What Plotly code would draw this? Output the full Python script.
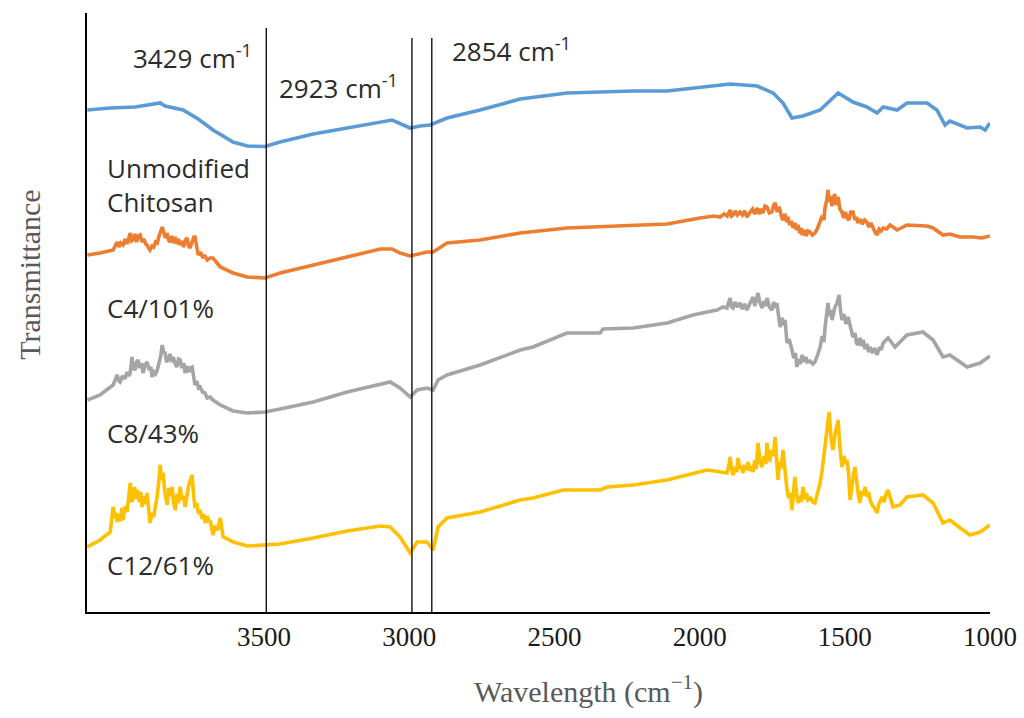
import plotly.graph_objects as go

# FTIR spectra as (wavenumber cm-1, transmittance in offset arbitrary units)
chitosan_pts = [
    (4109, 50.2), (4030, 50.4), (3944, 50.5), (3858, 50.9), (3841, 50.6),
    (3779, 50.2), (3727, 49.3), (3676, 48.2), (3607, 47.0), (3558, 46.6),
    (3497, 46.55), (3445, 47.0), (3331, 47.8), (3214, 48.4), (3100, 49.0),
    (3059, 49.2), (2997, 48.4), (2963, 48.6), (2928, 48.7), (2870, 49.4),
    (2756, 50.2), (2618, 51.3), (2457, 51.9), (2229, 52.1), (2112, 52.1),
    (1999, 52.5), (1895, 52.8), (1802, 52.6), (1747, 51.9), (1713, 50.9),
    (1682, 49.4), (1644, 49.6), (1585, 50.2), (1523, 51.9), (1472, 51.0),
    (1424, 50.5), (1389, 49.9), (1368, 50.5), (1320, 50.2), (1286, 50.9),
    (1217, 50.9), (1183, 50.2), (1155, 48.7), (1138, 49.1), (1079, 48.4),
    (1034, 48.5), (1017, 48.2), (1000, 48.9),
]

c4_pts = [
    (4109, 35.7), (4065, 35.9), (4020, 36.2), (4012, 36.6), (4006, 37.0),
    (4000, 36.5), (3994, 36.9), (3986, 36.7), (3978, 37.3), (3972, 36.8),
    (3966, 37.6), (3961, 37.9), (3956, 37.1), (3951, 37.2), (3945, 37.8),
    (3939, 37.0), (3933, 37.6), (3927, 37.7), (3920, 37.0), (3914, 37.3),
    (3908, 36.8), (3903, 36.7), (3898, 36.4), (3893, 36.2), (3886, 36.6),
    (3880, 36.5), (3874, 37.0), (3868, 36.9), (3862, 37.6), (3856, 38.2),
    (3851, 38.5), (3846, 38.0), (3840, 37.4), (3834, 37.9), (3829, 37.2),
    (3824, 37.0), (3818, 37.6), (3812, 36.9), (3806, 37.5), (3800, 36.8),
    (3795, 37.3), (3789, 36.7), (3783, 37.1), (3777, 36.5), (3771, 37.2),
    (3765, 37.4), (3760, 36.6), (3755, 36.4), (3748, 37.0), (3742, 37.5),
    (3738, 37.5), (3732, 36.4), (3727, 35.7), (3720, 36.0), (3712, 35.5),
    (3704, 35.6), (3696, 35.2), (3686, 35.4), (3676, 35.4), (3651, 34.5),
    (3607, 33.9), (3558, 33.5), (3497, 33.4), (3445, 33.9), (3331, 34.7),
    (3214, 35.5), (3100, 36.3), (3059, 36.3), (3032, 35.9), (2997, 35.6),
    (2939, 36.0), (2918, 36.0), (2870, 36.9), (2756, 37.2), (2618, 37.9),
    (2457, 38.4), (2229, 38.7), (2112, 38.8), (1999, 39.4), (1975, 39.5),
    (1950, 39.6), (1930, 39.5), (1915, 39.8), (1905, 39.6), (1895, 40.2),
    (1890, 39.6), (1885, 39.7), (1878, 40.1), (1870, 39.7), (1861, 40.0),
    (1853, 39.7), (1845, 40.1), (1837, 39.5), (1828, 39.9), (1818, 40.3),
    (1810, 39.8), (1802, 40.4), (1795, 39.8), (1788, 40.3), (1782, 39.9),
    (1775, 40.6), (1768, 40.5), (1760, 39.9), (1751, 40.0), (1745, 40.7),
    (1740, 40.9), (1733, 40.0), (1727, 40.5), (1723, 40.2), (1718, 39.5),
    (1713, 39.2), (1706, 39.8), (1700, 39.0), (1696, 39.5), (1690, 38.7),
    (1684, 39.1), (1678, 38.4), (1672, 38.9), (1666, 38.2), (1661, 38.7),
    (1655, 37.9), (1650, 38.4), (1647, 37.7), (1640, 38.2), (1633, 37.6),
    (1627, 38.1), (1620, 38.0), (1612, 37.7), (1603, 37.9), (1595, 38.3),
    (1585, 39.0), (1578, 39.6), (1572, 39.2), (1568, 40.5), (1562, 41.2),
    (1558, 42.2), (1553, 41.0), (1549, 41.6), (1545, 40.6), (1541, 41.0),
    (1535, 41.8), (1530, 40.7), (1523, 41.5), (1517, 40.3), (1510, 40.0),
    (1504, 39.4), (1498, 40.0), (1492, 39.4), (1486, 39.2), (1480, 40.0),
    (1472, 40.0), (1465, 39.2), (1460, 39.5), (1455, 38.9), (1448, 39.3),
    (1440, 38.8), (1432, 39.2), (1424, 39.0), (1417, 38.5), (1410, 38.9),
    (1403, 38.4), (1396, 38.0), (1389, 37.7), (1382, 38.3), (1375, 38.1),
    (1368, 38.4), (1356, 38.3), (1344, 38.7), (1320, 38.2), (1286, 38.7),
    (1217, 38.6), (1196, 38.4), (1162, 37.7), (1138, 37.8), (1103, 37.5),
    (1059, 37.5), (1028, 37.4), (1000, 37.6),
]

c8_pts = [
    (4109, 21.2), (4065, 21.7), (4020, 22.7), (4012, 23.4), (4006, 23.7),
    (4000, 23.1), (3996, 23.0), (3988, 23.6), (3980, 23.3), (3972, 24.0),
    (3966, 23.6), (3961, 23.9), (3955, 25.5), (3950, 24.4), (3944, 24.2),
    (3939, 25.0), (3934, 25.2), (3928, 24.4), (3922, 24.9), (3917, 23.9),
    (3910, 24.7), (3903, 25.0), (3896, 24.2), (3890, 24.5), (3886, 23.5),
    (3880, 24.0), (3874, 23.8), (3868, 24.2), (3862, 25.0), (3856, 25.6),
    (3851, 26.7), (3846, 26.0), (3841, 25.9), (3836, 25.0), (3831, 25.2),
    (3824, 25.8), (3818, 25.0), (3813, 25.5), (3806, 24.8), (3800, 24.5),
    (3795, 25.3), (3789, 25.2), (3783, 24.4), (3777, 24.9), (3772, 23.9),
    (3766, 24.6), (3760, 24.0), (3754, 24.4), (3748, 24.5), (3743, 23.4),
    (3738, 22.7), (3732, 23.1), (3726, 22.4), (3720, 22.5), (3712, 22.0),
    (3704, 21.9), (3696, 21.4), (3686, 21.5), (3676, 21.2), (3651, 20.7),
    (3607, 20.1), (3558, 19.9), (3497, 20.0), (3445, 20.3), (3331, 21.0),
    (3214, 22.0), (3100, 22.8), (3066, 23.0), (3032, 22.4), (2997, 21.5),
    (2973, 22.2), (2939, 22.4), (2918, 22.2), (2901, 23.2), (2870, 23.7),
    (2756, 24.7), (2618, 26.2), (2574, 26.5), (2457, 27.9), (2343, 27.9),
    (2333, 28.3), (2229, 28.4), (2112, 28.9), (2023, 29.7), (1975, 30.0),
    (1940, 30.2), (1920, 30.5), (1906, 30.4), (1900, 31.0), (1895, 31.4),
    (1890, 30.5), (1885, 30.4), (1878, 31.0), (1870, 30.5), (1861, 30.9),
    (1853, 30.3), (1845, 30.8), (1837, 30.2), (1828, 30.8), (1822, 31.2),
    (1816, 31.5), (1810, 30.6), (1805, 31.2), (1799, 31.9), (1792, 30.9),
    (1785, 30.4), (1778, 31.1), (1772, 30.6), (1768, 31.4), (1760, 30.5),
    (1751, 30.2), (1745, 31.0), (1740, 30.4), (1734, 30.9), (1728, 29.6),
    (1723, 28.5), (1716, 29.4), (1710, 28.7), (1706, 29.2), (1702, 27.8),
    (1699, 26.9), (1692, 27.3), (1686, 26.4), (1682, 26.2), (1676, 25.4),
    (1670, 25.9), (1665, 24.5), (1660, 25.3), (1654, 24.8), (1647, 25.7),
    (1640, 25.0), (1634, 25.5), (1630, 25.0), (1620, 25.1), (1610, 24.8),
    (1603, 25.0), (1595, 25.6), (1585, 26.5), (1578, 27.6), (1572, 27.0),
    (1568, 28.5), (1563, 29.8), (1558, 30.9), (1553, 29.6), (1548, 30.2),
    (1544, 29.2), (1539, 30.1), (1534, 30.5), (1527, 30.9), (1520, 31.7),
    (1515, 30.2), (1510, 29.2), (1503, 29.8), (1496, 28.8), (1489, 29.5),
    (1480, 28.3), (1472, 27.5), (1465, 27.9), (1460, 26.9), (1455, 26.7),
    (1448, 27.4), (1442, 26.6), (1437, 27.2), (1430, 26.3), (1424, 26.8),
    (1418, 26.0), (1413, 26.5), (1405, 25.9), (1397, 26.4), (1389, 25.7),
    (1380, 26.5), (1375, 26.2), (1368, 26.9), (1351, 27.4), (1327, 26.5),
    (1286, 27.7), (1231, 28.0), (1196, 27.2), (1162, 25.5), (1138, 25.7),
    (1079, 24.5), (1034, 24.9), (1000, 25.6),
]

c12_pts = [
    (4109, 6.5), (4065, 7.2), (4030, 8.0), (4024, 9.2), (4020, 10.5),
    (4014, 9.4), (4010, 9.9), (4006, 9.0), (4000, 9.8), (3994, 9.1),
    (3990, 10.4), (3986, 9.2), (3978, 10.6), (3972, 10.0), (3966, 11.8),
    (3961, 12.9), (3956, 11.0), (3951, 11.4), (3946, 12.5), (3941, 11.3),
    (3937, 12.2), (3930, 11.0), (3925, 12.0), (3920, 10.5), (3914, 11.6),
    (3908, 10.8), (3903, 11.9), (3898, 9.8), (3893, 8.9), (3886, 9.9),
    (3880, 9.5), (3875, 10.5), (3868, 11.6), (3863, 13.0), (3858, 14.7),
    (3853, 13.2), (3848, 13.9), (3842, 12.0), (3838, 11.5), (3834, 10.7),
    (3828, 12.4), (3822, 11.6), (3817, 12.5), (3812, 11.0), (3806, 10.2),
    (3800, 11.8), (3795, 10.9), (3789, 12.5), (3783, 11.2), (3777, 11.6),
    (3772, 10.5), (3765, 11.9), (3760, 12.6), (3754, 13.2), (3748, 13.7),
    (3743, 11.8), (3738, 10.4), (3732, 10.9), (3726, 9.8), (3720, 10.2),
    (3714, 9.3), (3708, 9.8), (3703, 8.9), (3696, 9.6), (3690, 9.0),
    (3686, 9.2), (3680, 8.4), (3676, 7.7), (3668, 8.6), (3660, 8.2),
    (3651, 9.4), (3646, 8.1), (3641, 7.5), (3625, 7.3), (3607, 7.0),
    (3558, 6.6), (3497, 6.7), (3445, 6.8), (3331, 7.4), (3214, 8.1),
    (3100, 8.6), (3066, 8.5), (3032, 7.5), (2997, 5.9), (2973, 7.0),
    (2939, 7.0), (2918, 6.2), (2901, 8.5), (2870, 9.4), (2756, 10.0),
    (2618, 11.2), (2574, 11.4), (2470, 12.2), (2343, 12.2), (2319, 12.5),
    (2229, 12.7), (2112, 13.2), (2043, 13.7), (1975, 14.2), (1950, 14.1),
    (1925, 14.0), (1906, 13.9), (1900, 14.6), (1895, 15.5), (1890, 14.2),
    (1885, 13.7), (1878, 14.5), (1872, 14.0), (1868, 15.4), (1862, 14.3),
    (1856, 14.6), (1851, 13.9), (1845, 14.7), (1838, 14.2), (1833, 15.0),
    (1827, 14.1), (1822, 14.6), (1816, 14.0), (1810, 15.2), (1805, 14.3),
    (1799, 16.9), (1792, 15.0), (1785, 14.5), (1778, 15.6), (1772, 14.8),
    (1768, 16.9), (1763, 15.3), (1758, 15.2), (1752, 16.2), (1746, 15.6),
    (1740, 17.5), (1735, 15.2), (1730, 13.2), (1725, 15.0), (1719, 14.4),
    (1713, 16.2), (1706, 13.8), (1699, 12.2), (1693, 11.4), (1687, 11.9),
    (1682, 10.2), (1677, 11.5), (1672, 13.5), (1666, 11.8), (1661, 10.9),
    (1655, 11.6), (1650, 11.0), (1644, 12.5), (1637, 11.3), (1632, 11.9),
    (1627, 11.2), (1618, 11.4), (1610, 11.0), (1603, 10.9), (1595, 11.8),
    (1585, 12.9), (1578, 14.2), (1572, 15.5), (1568, 16.9), (1561, 18.5),
    (1554, 20.0), (1548, 17.5), (1541, 16.2), (1535, 17.6), (1529, 18.4),
    (1523, 19.2), (1517, 16.5), (1510, 14.5), (1503, 15.6), (1497, 14.8),
    (1492, 15.2), (1487, 13.8), (1482, 11.2), (1476, 12.9), (1470, 13.8),
    (1465, 14.5), (1458, 12.3), (1453, 11.6), (1448, 10.9), (1442, 12.1),
    (1436, 11.7), (1430, 12.5), (1423, 11.5), (1418, 12.0), (1413, 11.2),
    (1406, 10.7), (1398, 10.4), (1389, 9.9), (1383, 10.8), (1377, 11.2),
    (1372, 11.5), (1365, 11.0), (1358, 11.8), (1351, 12.2), (1344, 11.4),
    (1339, 10.9), (1334, 10.5), (1322, 10.6), (1310, 10.7), (1298, 11.1),
    (1286, 11.5), (1231, 11.7), (1196, 10.9), (1162, 8.9), (1138, 9.2),
    (1103, 8.4), (1069, 7.7), (1034, 8.0), (1000, 8.7),
]

# Marked absorption bands
band_wn = [3429, 2923, 2854]
band_top = [58.4, 57.4, 57.4]
band_labels = ["3429 cm<sup>-1</sup>", "2923 cm<sup>-1</sup>", "2854 cm<sup>-1</sup>"]

tick_vals = [3500, 3000, 2500, 2000, 1500, 1000]
tick_text = ["3500", "3000", "2500", "2000", "1500", "1000"]

series = [
    ("Unmodified<br>Chitosan", chitosan_pts, "#5B9BD5"),
    ("C4/101%", c4_pts, "#ED7D31"),
    ("C8/43%", c8_pts, "#A5A5A5"),
    ("C12/61%", c12_pts, "#FFC000"),
]

fig = go.Figure()

for name, pts, color in series:
    wn = [p[0] for p in pts]
    t = [p[1] for p in pts]
    fig.add_trace(go.Scatter(x=wn, y=t, mode="lines", name=name.replace("<br>", " "),
                             line=dict(color=color, width=3.6), showlegend=False,
                             hoverinfo="skip"))

for wn, top in zip(band_wn, band_top):
    fig.add_trace(go.Scatter(x=[wn, wn], y=[0, top], mode="lines", xaxis="x2",
                             line=dict(color="#000000", width=1.3), showlegend=False,
                             hoverinfo="skip"))

label_font = dict(family="Open Sans, DejaVu Sans, sans-serif", size=26, color="#2b2b2b")

# band labels
band_label_pos = [(3958, 55.5), (3455, 52.5), (2860, 56.2)]
for text, (x, y) in zip(band_labels, band_label_pos):
    fig.add_annotation(x=x, y=y, xref="x", yref="y", text=text, showarrow=False,
                       xanchor="left", yanchor="middle", font=label_font)

# sample labels
sample_label_pos = [(4047, 42.7), (4047, 30.4), (4047, 17.9), (4047, 4.7)]
for (name, _, _), (x, y) in zip(series, sample_label_pos):
    fig.add_annotation(x=x, y=y, xref="x", yref="y", text=name, showarrow=False,
                       xanchor="left", yanchor="middle", align="left", font=label_font)

title_font = dict(family="Liberation Serif, Times New Roman, serif", size=30, color="#595959")
fig.add_annotation(x=0.555, y=-0.13, xref="paper", yref="paper",
                   text="Wavelength (cm<sup>−1</sup>)", showarrow=False,
                   xanchor="center", yanchor="middle", font=title_font)
fig.add_annotation(x=-0.063, y=0.563, xref="paper", yref="paper",
                   text="Transmittance", showarrow=False, textangle=-90,
                   xanchor="center", yanchor="middle", font=title_font)

fig.update_layout(
    width=1024, height=718,
    margin=dict(l=87, r=34, t=13, b=106, autoexpand=False),
    paper_bgcolor="white", plot_bgcolor="white",
    xaxis=dict(range=[4110, 1000], tickvals=tick_vals, ticktext=tick_text,
               showgrid=False, zeroline=False, showline=True, linecolor="#000000",
               linewidth=1.5, ticks="", ticklabelstandoff=0, automargin=False,
               tickfont=dict(family="Liberation Serif, Times New Roman, serif",
                             size=27, color="#1a1a1a")),
    xaxis2=dict(range=[4051.7, 915.0], overlaying="x", visible=False),
    yaxis=dict(range=[0, 59.9], showgrid=False, zeroline=False, showline=True,
               linecolor="#000000", linewidth=1.5, showticklabels=False, ticks="",
               automargin=False),
)

fig.write_html("out.html")
